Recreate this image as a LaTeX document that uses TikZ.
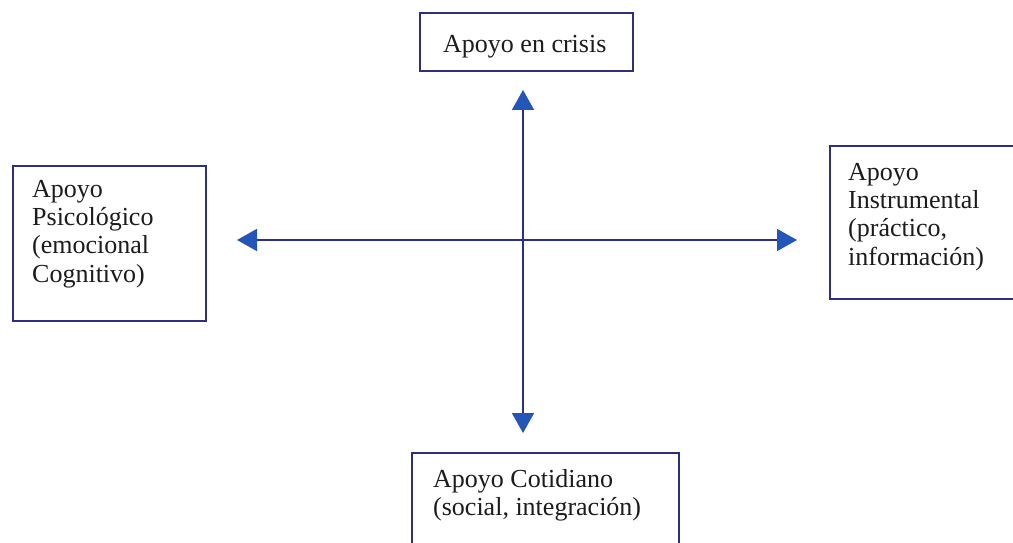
\documentclass[tikz,border=0pt]{standalone}
\usepackage{fontspec}
\setmainfont{Liberation Serif}
\usetikzlibrary{arrows.meta}
\definecolor{boxnavy}{HTML}{2E2E82}
\definecolor{linenavy}{HTML}{2A2F8C}
\definecolor{tipblue}{HTML}{2356B8}
\definecolor{inkgray}{HTML}{1C1C1C}
\begin{document}
\begin{tikzpicture}[x=1pt,y=-1pt,
  box/.style={draw=boxnavy, line width=1.8pt, fill=white, rectangle, inner sep=0pt, anchor=north west},
  label/.style={text=inkgray, inner sep=0pt, align=left, anchor=north west,
    font=\fontsize{26}{28.3}\selectfont},
  axis/.style={draw=linenavy, line width=1.8pt,
    {Triangle[length=20pt,width=22pt,color=tipblue]}-{Triangle[length=20pt,width=22pt,color=tipblue]}}]
\clip (0,0) rectangle (1013,543);
\fill[white] (0,0) rectangle (1013,543);
% boxes
\node[box, minimum width=213pt, minimum height=58pt] (topbox) at (419,12) {};
\node[box, minimum width=193pt, minimum height=155pt] (leftbox) at (12,165) {};
\node[box, minimum width=200pt, minimum height=153pt] (rightbox) at (829,145) {};
\node[box, minimum width=267pt, minimum height=110pt] (bottombox) at (411,452) {};
% texts
\node[label] (toptext) at (443,35) {Apoyo en crisis};
\node[label] (lefttext) at (32,180) {Apoyo\\Psicológico\\(emocional\\Cognitivo)};
\node[label] (righttext) at (848,163) {Apoyo\\Instrumental\\(práctico,\\información)};
\node[label] (bottomtext) at (433,469) {Apoyo Cotidiano\\(social, integración)};
% arrow tips
\coordinate (tipN) at (523,90);
\coordinate (tipS) at (523,433);
\coordinate (tipW) at (237,240);
\coordinate (tipE) at (797,240);
\draw[axis] (tipN) -- (tipS);
\draw[axis] (tipW) -- (tipE);
\end{tikzpicture}
\end{document}
